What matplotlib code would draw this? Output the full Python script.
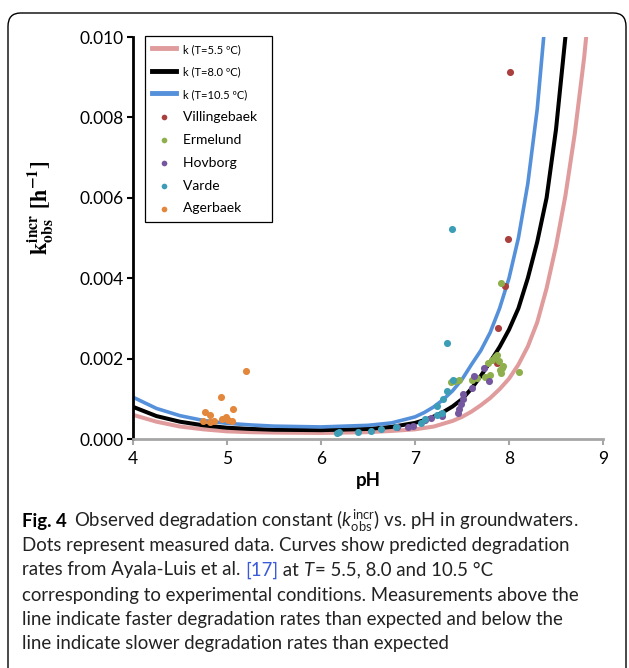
import matplotlib
matplotlib.use("Agg")
import matplotlib.pyplot as plt
from matplotlib.patches import FancyBboxPatch

# ---------------- data ----------------
ph_t55 = [4.0, 4.25, 4.5, 4.75, 5.0, 5.25, 5.5, 6.0, 6.5, 6.75, 7.0, 7.2, 7.4, 7.5, 7.6, 7.7,
          7.8, 7.9, 8.0, 8.1, 8.2, 8.3, 8.4, 8.5, 8.6, 8.7, 8.8, 8.9]
k_t55 = [0.00060, 0.00043, 0.00031, 0.00024, 0.00019, 0.00017, 0.00016, 0.00015, 0.00017, 0.00020,
         0.00024, 0.00031, 0.00045, 0.00055, 0.00068, 0.00084, 0.00102, 0.00124, 0.00150, 0.00185,
         0.00230, 0.00290, 0.00375, 0.00480, 0.00605, 0.00760, 0.00950, 0.01190]

ph_t80 = [4.0, 4.25, 4.5, 4.75, 5.0, 5.25, 5.5, 6.0, 6.5, 6.75, 7.0, 7.1, 7.2, 7.3, 7.4, 7.5, 7.6,
          7.7, 7.8, 7.9, 8.0, 8.1, 8.2, 8.3, 8.4, 8.5, 8.6, 8.7]
k_t80 = [0.00080, 0.00057, 0.00043, 0.00034, 0.00028, 0.00025, 0.00023, 0.00022, 0.00025, 0.00030,
         0.00040, 0.00047, 0.00056, 0.00067, 0.00081, 0.00099, 0.00125, 0.00157, 0.00192, 0.00229,
         0.00272, 0.00325, 0.00400, 0.00490, 0.00600, 0.00770, 0.01000, 0.01280]

ph_t105 = [4.0, 4.25, 4.5, 4.75, 5.0, 5.25, 5.5, 6.0, 6.5, 6.75, 7.0, 7.1, 7.2, 7.3, 7.4, 7.5, 7.6,
           7.7, 7.8, 7.9, 8.0, 8.1, 8.2, 8.3, 8.4]
k_t105 = [0.00104, 0.00076, 0.00058, 0.00046, 0.00039, 0.00035, 0.00032, 0.00030, 0.00034, 0.00040,
          0.00055, 0.00066, 0.00080, 0.00098, 0.00120, 0.00148, 0.00185, 0.00220, 0.00265, 0.00325,
          0.00400, 0.00500, 0.00635, 0.00820, 0.01080]

villingebaek_ph = [8.01, 7.99, 7.96, 7.88, 7.87]
villingebaek_k = [0.00913, 0.00498, 0.00381, 0.00276, 0.00189]

ermelund_ph = [7.38, 7.43, 7.47, 7.61, 7.66, 7.74, 7.80, 7.78, 7.82, 7.85, 7.87, 7.89, 7.90, 7.93,
               7.94, 7.91, 8.11, 7.91]
ermelund_k = [0.00142, 0.00144, 0.00147, 0.00147, 0.00152, 0.00154, 0.00159, 0.00189, 0.00197,
              0.00204, 0.00209, 0.00194, 0.00172, 0.00177, 0.00182, 0.00164, 0.00167, 0.00388]

hovborg_ph = [6.81, 6.93, 6.98, 7.11, 7.17, 7.29, 7.46, 7.47, 7.49, 7.51, 7.51, 7.61, 7.63, 7.73, 7.79]
hovborg_k = [0.00030, 0.00030, 0.00032, 0.00047, 0.00052, 0.00057, 0.00065, 0.00075, 0.00087,
             0.00100, 0.00112, 0.00127, 0.00157, 0.00177, 0.00144]

varde_ph = [6.17, 6.19, 6.39, 6.53, 6.64, 6.80, 7.06, 7.11, 7.23, 7.29, 7.23, 7.30, 7.34, 7.40,
            7.34, 7.39]
varde_k = [0.00015, 0.00017, 0.00017, 0.00020, 0.00025, 0.00030, 0.00040, 0.00050, 0.00060,
           0.00065, 0.00082, 0.00100, 0.00119, 0.00147, 0.00239, 0.00522]

agerbaek_ph = [5.20, 4.94, 5.06, 4.77, 4.82, 4.74, 4.82, 4.86, 4.95, 4.99, 5.01, 5.05]
agerbaek_k = [0.00169, 0.00104, 0.00075, 0.00067, 0.00060, 0.00045, 0.00042, 0.00045, 0.00050,
              0.00055, 0.00047, 0.00045]

x_ticks = [4, 5, 6, 7, 8, 9]
y_ticks = [0.000, 0.002, 0.004, 0.006, 0.008, 0.010]

# ---------------- figure ----------------
W, H = 629, 668
fig = plt.figure(figsize=(W / 100, H / 100), dpi=100)
FONT = "Lato"

# rounded frame around figure + caption
frame = FancyBboxPatch((8 / W, -40 / H), (626 - 8) / W, (H - 13 + 40) / H,
                       boxstyle="round,pad=0,rounding_size=0.02",
                       transform=fig.transFigure, facecolor="none",
                       edgecolor="black", linewidth=1.0, clip_on=False)
fig.patches.append(frame)

ax = fig.add_axes([133 / W, (H - 439) / H, 470 / W, 402 / H])

ax.plot(ph_t55, k_t55, color="#E09C9C", lw=2.9, label="k (T=5.5 ºC)", zorder=2)
ax.plot(ph_t80, k_t80, color="black", lw=2.9, label="k (T=8.0 ºC)", zorder=2)
ax.plot(ph_t105, k_t105, color="#5590DA", lw=2.6, label="k (T=10.5 ºC)", zorder=2)

ms = 26
ax.scatter(villingebaek_ph, villingebaek_k, s=ms, color="#A9403D", label="Villingebaek", zorder=3, lw=0)
ax.scatter(ermelund_ph, ermelund_k, s=ms, color="#8FAF4C", label="Ermelund", zorder=3, lw=0)
ax.scatter(hovborg_ph, hovborg_k, s=ms, color="#74579E", label="Hovborg", zorder=3, lw=0)
ax.scatter(varde_ph, varde_k, s=ms, color="#3C9DB7", label="Varde", zorder=3, lw=0)
ax.scatter(agerbaek_ph, agerbaek_k, s=ms, color="#E2873B", label="Agerbaek", zorder=3, lw=0)

ax.set_xlim(4, 9)
ax.set_ylim(0, 0.010)
ax.set_xticks(x_ticks)
ax.set_yticks(y_ticks)
ax.set_xticklabels([str(v) for v in x_ticks], fontfamily=FONT, fontsize=12.5)
ax.set_yticklabels([f"{v:.3f}" for v in y_ticks], fontfamily=FONT, fontsize=12.5)

for s in ("top", "right"):
    ax.spines[s].set_visible(False)
ax.spines["left"].set_color("black")
ax.spines["left"].set_linewidth(2.0)
ax.spines["bottom"].set_color("#A6A6A6")
ax.spines["bottom"].set_linewidth(2.0)
ax.tick_params(axis="y", direction="out", length=4, width=1.5, color="black", pad=3)
ax.tick_params(axis="x", direction="out", length=4, width=1.5, color="#A6A6A6", pad=5)

ax.set_xlabel("pH", fontfamily=FONT, fontweight="bold", fontsize=13.5, labelpad=3)
ax.set_ylabel(r"$\mathbf{k_{obs}^{incr}}\ \mathbf{[h^{-1}]}$", fontsize=16,
              math_fontfamily="stix")
ax.yaxis.set_label_coords(-0.163, 0.575)

leg = ax.legend(loc="upper left", bbox_to_anchor=(0.025, 1.003), borderaxespad=0,
                frameon=True, fancybox=False, framealpha=1, edgecolor="black",
                prop={"family": FONT, "size": 10}, handlelength=1.7, handletextpad=0.5,
                labelspacing=0.78, borderpad=0.55, scatterpoints=1, markerscale=0.8)
leg.get_frame().set_linewidth(0.9)
for t in leg.get_texts()[:3]:
    t.set_fontsize(8)
for h in leg.legend_handles[:3]:
    h.set_linewidth(3.5)
# extra right padding inside the legend frame (as in the original)
for t in leg.get_texts():
    t.set_text(t.get_text() + "  ")

# ---------------- caption ----------------
renderer = fig.canvas.get_renderer()
cap_size = 13.4
x0 = 22
line_y = [521, 546, 570, 595, 620, 644]

plt.rcParams["mathtext.fontset"] = "custom"
plt.rcParams["mathtext.rm"] = FONT
plt.rcParams["mathtext.it"] = FONT + ":italic"
plt.rcParams["mathtext.bf"] = FONT + ":bold"


def put(x_px, y_px, s, **kw):
    kw.setdefault("fontfamily", FONT)
    kw.setdefault("fontsize", cap_size)
    kw.setdefault("color", "#222222")
    t = fig.text(x_px / W, 1 - y_px / H, s, va="center", ha="left",
                 math_fontfamily="custom", **kw)
    bb = t.get_window_extent(renderer)
    return bb.x1


x = put(x0, line_y[0], "Fig. 4", fontweight="bold", color="black")
x = put(x + 7, line_y[0], "Observed degradation constant (" + r"$k^{\mathrm{incr}}_{\mathrm{obs}}$"
        + ") vs. pH in groundwaters.")
put(x0, line_y[1], "Dots represent measured data. Curves show predicted degradation")
x = put(x0, line_y[2], "rates from Ayala-Luis et al. ")
x = put(x, line_y[2], "[17]", color="#3A5BD9")
x = put(x, line_y[2], " at ")
x = put(x, line_y[2], "T", style="italic")
put(x + 1, line_y[2], "= 5.5, 8.0 and 10.5 °C")
put(x0, line_y[3], "corresponding to experimental conditions. Measurements above the")
put(x0, line_y[4], "line indicate faster degradation rates than expected and below the")
put(x0, line_y[5], "line indicate slower degradation rates than expected")

fig.savefig("out.png", dpi=100)
